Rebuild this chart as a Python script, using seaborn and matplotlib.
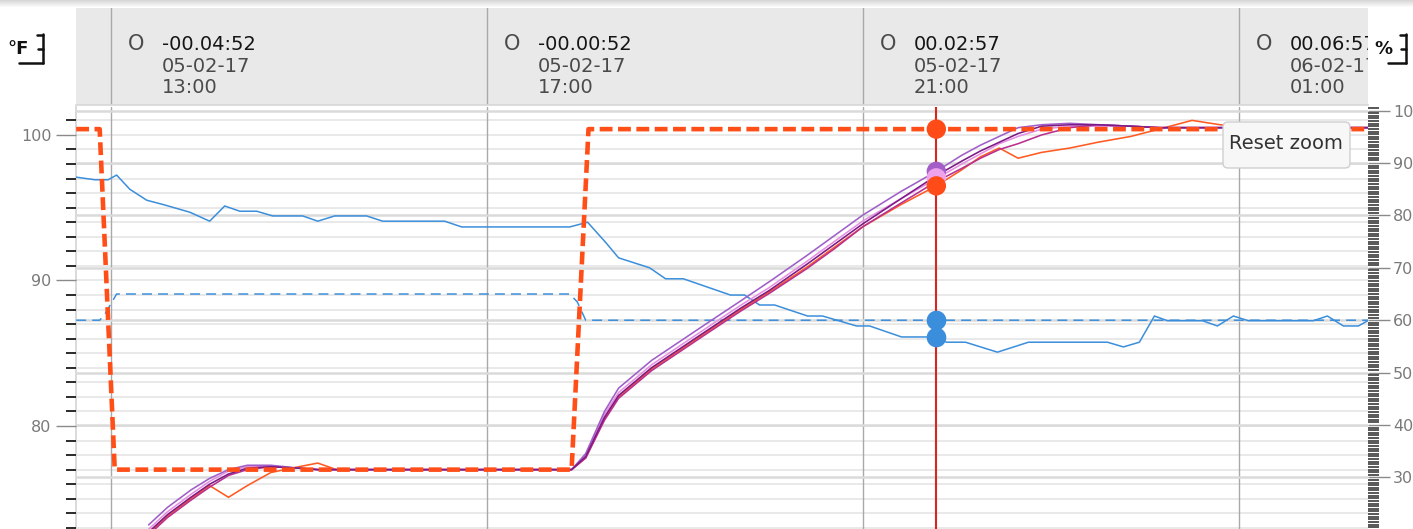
import numpy as np
import pandas as pd
import matplotlib
matplotlib.use("Agg")
import matplotlib.pyplot as plt
from matplotlib.patches import FancyBboxPatch
from matplotlib.lines import Line2D
from matplotlib.transforms import IdentityTransform
from matplotlib.ticker import MultipleLocator
import seaborn as sns

# ---------------- data ----------------
header_hours = [0, 4, 8, 12]
header_offsets = ["-00.04:52", "-00.00:52", "00.02:57", "00.06:57"]
header_dates = ["05-02-17", "05-02-17", "05-02-17", "06-02-17"]
header_times = ["13:00", "17:00", "21:00", "01:00"]

temp_setpoint_hours = [-0.37, -0.12, 0.04, 4.90, 5.08, 13.40]
temp_setpoint_vals = [100.4, 100.4, 77.0, 77.0, 100.4, 100.4]

hum_setpoint_hours = [-0.37, -0.12, -0.07, 0.06, 4.88, 4.96, 5.05, 13.40]
hum_setpoint_vals = [60.0, 60.0, 61.0, 65.0, 65.0, 63.5, 60.0, 60.0]

hum_hours = [-0.37, -0.17, -0.03, 0.06, 0.20, 0.38, 0.57, 0.84, 1.05, 1.21,
             1.37, 1.55, 1.72, 2.04, 2.20, 2.38, 2.72, 2.89, 3.55, 3.73,
             4.88, 5.07, 5.26, 5.40, 5.73, 5.90, 6.09, 6.59, 6.74, 6.90,
             7.06, 7.41, 7.57, 7.93, 8.07, 8.41, 8.78, 8.89, 9.09, 9.43,
             9.76, 10.60, 10.77, 10.94, 11.10, 11.24, 11.61, 11.77, 11.94, 12.10,
             12.79, 12.94, 13.11, 13.27, 13.37]
hum_vals = [87.3, 86.8, 86.8, 87.7, 85.0, 82.9, 82.0, 80.6, 78.9, 81.8,
            80.8, 80.8, 79.9, 79.9, 78.9, 79.9, 79.9, 78.9, 78.9, 77.8,
            77.8, 78.7, 74.9, 71.9, 70.0, 67.9, 67.9, 64.8, 64.8, 62.9,
            62.9, 60.8, 60.8, 58.9, 58.9, 56.8, 56.8, 55.8, 55.8, 53.9,
            55.8, 55.8, 54.9, 55.8, 60.8, 59.9, 59.9, 58.9, 60.8, 59.9,
            59.9, 60.8, 58.9, 58.9, 59.9]

temp_hours = [0.40, 0.60, 0.85, 1.05, 1.25, 1.45, 1.70, 2.00, 2.20, 2.40,
              3.00, 3.60, 4.20, 4.90, 5.05, 5.25, 5.40, 5.75, 6.05, 6.35,
              6.70, 7.00, 7.40, 7.70, 8.00, 8.40, 8.78, 9.05, 9.25, 9.45,
              9.65, 9.90, 10.20, 10.50, 10.85, 11.15, 11.50, 11.80, 12.20, 12.65,
              13.05, 13.40]
temp_orange = [72.6, 73.8, 75.0, 75.9, 75.1, 75.9, 76.8, 77.2, 77.45, 77.0,
               77.0, 77.0, 77.0, 77.0, 77.8, 80.5, 82.0, 83.9, 85.2, 86.5,
               88.0, 89.2, 90.9, 92.3, 93.7, 95.2, 96.5, 97.6, 98.5, 99.1,
               98.4, 98.8, 99.1, 99.5, 99.9, 100.4, 101.0, 100.7, 100.5, 100.5,
               100.5, 100.5]
temp_pink = [72.9, 74.1, 75.3, 76.2, 76.9, 77.2, 77.2, 77.1, 77.0, 77.0,
             77.0, 77.0, 77.0, 77.0, 78.0, 80.8, 82.3, 84.2, 85.5, 86.8,
             88.3, 89.5, 91.3, 92.7, 94.1, 95.6, 97.0, 98.0, 98.7, 99.4,
             99.9, 100.4, 100.6, 100.6, 100.6, 100.5, 100.5, 100.5, 100.5, 100.5,
             100.5, 100.5]
temp_magenta = [72.5, 73.7, 74.9, 75.8, 76.6, 77.0, 77.2, 77.1, 77.0, 77.0,
                77.0, 77.0, 77.0, 77.0, 77.8, 80.4, 81.9, 83.8, 85.1, 86.4,
                87.9, 89.1, 90.8, 92.2, 93.7, 95.3, 96.8, 97.7, 98.4, 99.0,
                99.4, 100.0, 100.5, 100.7, 100.6, 100.5, 100.5, 100.5, 100.5, 100.5,
                100.5, 100.5]
temp_violet = [73.2, 74.4, 75.6, 76.4, 77.0, 77.3, 77.3, 77.1, 77.0, 77.0,
               77.0, 77.0, 77.0, 77.0, 78.1, 81.0, 82.6, 84.5, 85.8, 87.1,
               88.6, 89.9, 91.7, 93.1, 94.5, 96.1, 97.5, 98.6, 99.3, 99.9,
               100.5, 100.7, 100.8, 100.7, 100.6, 100.5, 100.5, 100.5, 100.5, 100.5,
               100.5, 100.5]
temp_purple = [72.7, 73.9, 75.1, 76.0, 76.7, 77.1, 77.2, 77.1, 77.0, 77.0,
               77.0, 77.0, 77.0, 77.0, 77.9, 80.6, 82.1, 84.0, 85.3, 86.6,
               88.1, 89.3, 91.1, 92.5, 93.9, 95.6, 97.2, 98.2, 98.9, 99.5,
               100.1, 100.6, 100.7, 100.7, 100.6, 100.5, 100.5, 100.5, 100.5, 100.5,
               100.5, 100.5]

cursor_hour = 8.78
cursor_temp_series = ["setpoint", "violet", "pink", "orange"]
cursor_temp_vals = [100.4, 97.5, 97.05, 96.5]
cursor_hum_series = ["setpoint", "humidity"]
cursor_hum_vals = [60.0, 56.8]

# ---------------- style ----------------
sns.set_theme(style="white")
plt.rcParams['font.family'] = ['DejaVu Sans']

W, H = 1413, 529
fig = plt.figure(figsize=(W / 100, H / 100), dpi=100)
fig.patch.set_facecolor("white")

def fx(px):
    return px / W

def fy(py):
    return 1 - py / H

X0, X1, TOP = 76, 1368, 107
main_rect = [fx(X0), 0, fx(X1) - fx(X0), (H - TOP) / H]
XLIM = (-0.372, 13.372)
TEMP_LIM = (72.92, 101.92)
HUM_LIM = (20.15, 100.69)

line_colors = {"orange": "#ff5a22", "pink": "#e68fe2", "magenta": "#b8308f",
               "violet": "#a05fc8", "purple": "#7c1a86"}
marker_colors = {"setpoint": "#ff4b17", "violet": "#a45ec8", "pink": "#eea2ec",
                 "orange": "#ff4b17"}
BLUE = "#3b8edb"

# ---------- background grid axes ----------
axbg = fig.add_axes(main_rect, zorder=0)
axbg.set_facecolor("white")
axbg.set_xlim(XLIM)
axbg.set_ylim(TEMP_LIM)
axbg.yaxis.set_major_locator(MultipleLocator(10))
axbg.yaxis.set_minor_locator(MultipleLocator(1))
axbg.grid(which="both", axis="y", color="#e3e3e3", lw=1.1)
axbg.tick_params(which="both", length=0, labelleft=False, labelbottom=False)
axbg.set_xticks([])
for s in axbg.spines.values():
    s.set_visible(False)
axbg.spines["left"].set_visible(True)
axbg.spines["left"].set_color("#d5d5d5")
for h in header_hours:
    axbg.axvline(h, color="#a9a9a9", lw=1.0)

# ---------- humidity axes (right) ----------
ax2 = fig.add_axes(main_rect, zorder=1)
ax2.patch.set_visible(False)
hum_df = pd.DataFrame({"hour": hum_hours, "value": hum_vals})
hsp_df = pd.DataFrame({"hour": hum_setpoint_hours, "value": hum_setpoint_vals})
sns.lineplot(data=hum_df, x="hour", y="value", estimator=None, sort=False,
             color=BLUE, linewidth=1.1, ax=ax2)
sns.lineplot(data=hsp_df, x="hour", y="value", estimator=None, sort=False,
             color=BLUE, linewidth=1.1, linestyle=(0, (6.5, 4.0)), ax=ax2)
ax2.axvline(cursor_hour, color="#d8261c", lw=1.5, zorder=3)
cur_h_df = pd.DataFrame({"hour": [cursor_hour] * len(cursor_hum_vals),
                         "value": cursor_hum_vals, "series": cursor_hum_series})
sns.scatterplot(data=cur_h_df, x="hour", y="value", color=BLUE, s=200,
                linewidth=0, legend=False, ax=ax2, zorder=4)
ax2.set_xlim(XLIM)
ax2.set_ylim(HUM_LIM)
ax2.yaxis.tick_right()
ax2.yaxis.set_major_locator(MultipleLocator(10))
ax2.yaxis.set_minor_locator(MultipleLocator(0.5))
ax2.grid(which="major", axis="y", color="#dadada", lw=1.8)
ax2.tick_params(axis="y", which="major", right=True, length=16, width=1.0,
                color="#8a8a8a", labelsize=11.5, labelcolor="#7a7a7a", pad=2)
ax2.tick_params(axis="y", which="minor", right=True, length=8, width=1.1,
                color="#2a2a2a")
ax2.set_xticks([])
ax2.set_xlabel("")
ax2.set_ylabel("")
for s in ax2.spines.values():
    s.set_visible(False)

# ---------- temperature axes (left) ----------
ax = fig.add_axes(main_rect, zorder=2)
ax.patch.set_visible(False)
series_order = ["orange", "pink", "magenta", "violet", "purple"]
series_data = {"orange": temp_orange, "pink": temp_pink, "magenta": temp_magenta,
               "violet": temp_violet, "purple": temp_purple}
temp_df = pd.DataFrame({
    "hour": temp_hours * len(series_order),
    "temp": sum([series_data[k] for k in series_order], []),
    "series": sum([[k] * len(temp_hours) for k in series_order], []),
})
sns.lineplot(data=temp_df, x="hour", y="temp", hue="series", hue_order=series_order,
             palette=line_colors, estimator=None, sort=False, linewidth=1.15,
             legend=False, ax=ax)
tsp_df = pd.DataFrame({"hour": temp_setpoint_hours, "temp": temp_setpoint_vals})
sns.lineplot(data=tsp_df, x="hour", y="temp", estimator=None, sort=False,
             color="#ff4e17", linewidth=3.3, linestyle=(0, (2.8, 1.2)), ax=ax)
cur_t_df = pd.DataFrame({"hour": [cursor_hour] * len(cursor_temp_vals),
                         "temp": cursor_temp_vals, "series": cursor_temp_series})
sns.scatterplot(data=cur_t_df, x="hour", y="temp", hue="series",
                palette=marker_colors, s=195, linewidth=0, legend=False, ax=ax,
                zorder=5)
ax.set_xlim(XLIM)
ax.set_ylim(TEMP_LIM)
ax.yaxis.set_major_locator(MultipleLocator(10))
ax.yaxis.set_minor_locator(MultipleLocator(1))
ax.tick_params(axis="y", which="major", left=True, length=14.5, width=1.0,
               color="#8a8a8a", labelsize=11.5, labelcolor="#7a7a7a", pad=3)
ax.tick_params(axis="y", which="minor", left=True, length=7.5, width=1.4,
               color="#2a2a2a")
ax.set_xticks([])
ax.set_xlabel("")
ax.set_ylabel("")
for s in ax.spines.values():
    s.set_visible(False)

# ---------- header ----------
axh = fig.add_axes([fx(X0), fy(105), fx(X1) - fx(X0), (105 - 8) / H], zorder=3)
axh.set_facecolor("#e9e9e9")
axh.set_xlim(XLIM)
axh.set_ylim(105, 8)
axh.set_xticks([])
axh.set_yticks([])
for s in axh.spines.values():
    s.set_visible(False)
axh.spines["bottom"].set_visible(True)
axh.spines["bottom"].set_color("#d8d8d8")
for h, off, d, t in zip(header_hours, header_offsets, header_dates, header_times):
    axh.axvline(h, color="#a9a9a9", lw=1.0)
    axh.text(h + 0.262, 43.5, "O", fontsize=15, color="#4a4a4a",
             ha="center", va="center", clip_on=True)
    axh.text(h + 0.54, 45, off, fontsize=14, color="#151515",
             ha="left", va="center", clip_on=True)
    axh.text(h + 0.54, 66.5, d, fontsize=14, color="#4a4a4a",
             ha="left", va="center", clip_on=True)
    axh.text(h + 0.54, 87.5, t, fontsize=14, color="#4a4a4a",
             ha="left", va="center", clip_on=True)

# top shadow
axs = fig.add_axes([0, fy(8), 1, 8 / H], zorder=4)
grad = np.zeros((8, 2, 4))
grad[..., :3] = 0.72
grad[..., 3] = np.linspace(0.55, 0.0, 8)[:, None]
axs.imshow(grad, aspect="auto", extent=(0, 1, 0, 1))
axs.axis("off")

# unit icons
def unit_icon(text, tx, bx, left_line):
    fig.text(fx(tx), fy(49), text, fontsize=13, color="#111111",
             ha="left", va="center", fontweight="bold")
    lines = [([bx, bx], [34, 63]), ([bx - 6, bx], [35, 35]),
             ([bx - 5, bx], [49, 49]), ([left_line, bx], [63, 63])]
    for xs, ys in lines:
        fig.add_artist(Line2D([fx(v) for v in xs], [fy(v) for v in ys],
                              transform=fig.transFigure, color="#111111", lw=1.8))

unit_icon("°F", 7, 43, 19)
unit_icon("%", 1374, 1406, 1388)

# reset zoom button
box = FancyBboxPatch((1223, H - 168), 127, 46,
                     boxstyle="round,pad=0,rounding_size=5",
                     transform=IdentityTransform(), facecolor="#f7f7f7",
                     edgecolor="#cfcfcf", linewidth=1.0, zorder=10)
fig.add_artist(box)
fig.text(fx(1286), fy(144), "Reset zoom", fontsize=14, color="#333333",
         ha="center", va="center", zorder=11)

fig.savefig("out.png", dpi=100)
